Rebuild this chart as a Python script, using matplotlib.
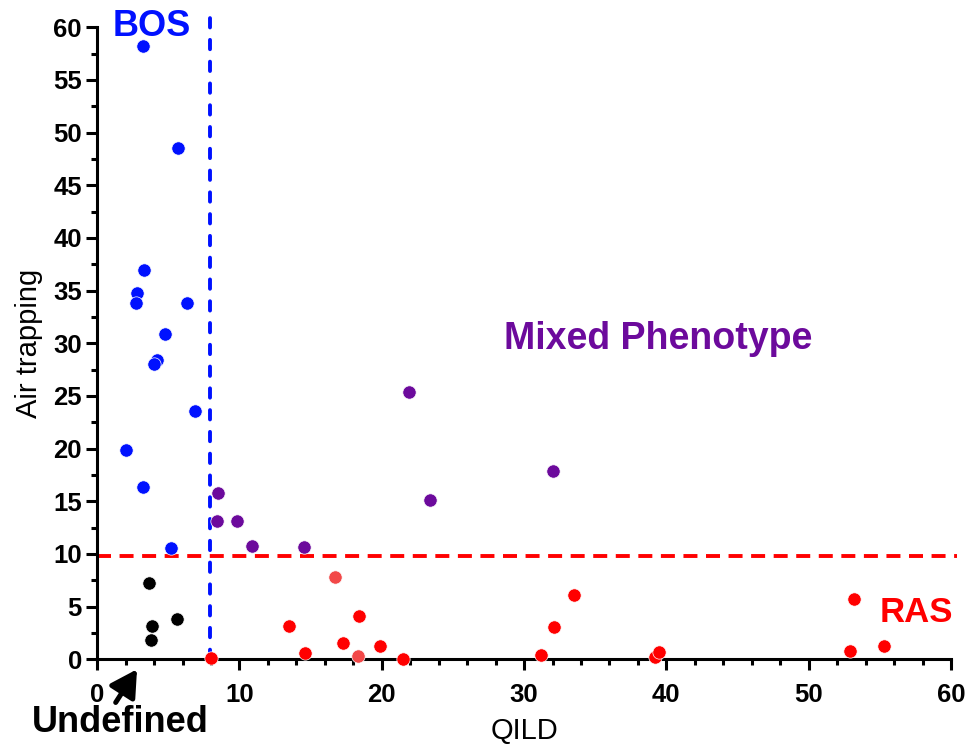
import numpy as np
import matplotlib.pyplot as plt
from matplotlib.ticker import MultipleLocator

#=== Fonts ===
plt.rcParams['font.family'] = ['Liberation Sans', 'DejaVu Sans']

#=== Data ===
bos_qild = [3.2, 5.7, 3.3, 2.8, 2.7, 6.3, 4.8, 4.2, 4.0, 6.9, 2.0, 3.25, 5.2]
bos_air = [58.2, 48.5, 37.0, 34.8, 33.8, 33.8, 30.9, 28.4, 28.0, 23.6, 19.9, 16.4, 10.6]

undef_qild = [3.65, 3.85, 3.8, 5.6]
undef_air = [7.2, 3.2, 1.8, 3.8]

mixed_qild = [8.5, 8.4, 9.8, 10.85, 14.5, 21.9, 23.4, 32.0]
mixed_air = [15.8, 13.1, 13.1, 10.8, 10.7, 25.4, 15.1, 17.9]

ras_qild = [8.0, 13.5, 14.6, 17.3, 18.4, 19.85, 21.5, 31.2, 32.1, 33.5, 39.2, 39.5, 52.9, 53.2, 55.3]
ras_air = [0.1, 3.2, 0.6, 1.5, 4.1, 1.3, 0.0, 0.4, 3.1, 6.1, 0.25, 0.7, 0.8, 5.7, 1.3]

ras_light_qild = [16.7, 18.3]
ras_light_air = [7.8, 0.35]

QILD_CUT = 7.9
AIR_CUT = 9.8

#=== Colours ===
BLUE = '#0011ff'
PURPLE = '#6c0a9c'
RED = '#ff0000'
LIGHT_RED = '#f24848'

#=== Figure ===
fig = plt.figure(figsize=(9.68, 7.48), dpi=100, facecolor='white')
ax = fig.add_axes([0.1004, 0.1186, 0.882, 0.845])

# threshold lines
ax.plot([QILD_CUT, QILD_CUT], [0, 61.0], color=BLUE, lw=2.8,
        linestyle=(0, (2.4, 3.2)), dash_capstyle='round', clip_on=False, zorder=2)
ax.plot([0, 60.4], [AIR_CUT, AIR_CUT], color=RED, lw=2.8,
        linestyle=(0, (3.6, 2.2)), clip_on=False, zorder=2)

# points
kw = dict(s=92, edgecolors='white', linewidths=0.5, clip_on=False, zorder=4)
ax.scatter(bos_qild, bos_air, color=BLUE, **kw)
ax.scatter(undef_qild, undef_air, color='black', **kw)
ax.scatter(mixed_qild, mixed_air, color=PURPLE, **kw)
ax.scatter(ras_qild, ras_air, color=RED, **kw)
ax.scatter(ras_light_qild, ras_light_air, color=LIGHT_RED, **kw)

#=== Axes styling ===
ax.set_xlim(0, 60)
ax.set_ylim(0, 60)
for side in ['top', 'right']:
    ax.spines[side].set_visible(False)
for side in ['left', 'bottom']:
    ax.spines[side].set_linewidth(2.2)

ax.xaxis.set_major_locator(MultipleLocator(10))
ax.xaxis.set_minor_locator(MultipleLocator(2))
ax.yaxis.set_major_locator(MultipleLocator(5))
ax.yaxis.set_minor_locator(MultipleLocator(2.5))
ax.tick_params(which='major', length=8, width=2.2, labelsize=18.5)
ax.tick_params(axis='y', which='major', pad=3)
ax.tick_params(axis='x', which='major', pad=9)
ax.tick_params(which='minor', length=4.5, width=2.2)
for lab in ax.get_xticklabels() + ax.get_yticklabels():
    lab.set_fontweight('bold')

ax.set_xlabel('QILD', fontsize=21, labelpad=7)
ax.set_ylabel('Air trapping', fontsize=21, labelpad=7)

#=== Group labels ===
ax.text(3.8, 60.1, 'BOS', color=BLUE, fontsize=26, fontweight='bold',
        ha='center', va='center', clip_on=False)
ax.text(39.4, 30.4, 'Mixed Phenotype', color=PURPLE, fontsize=27, fontweight='bold',
        ha='center', va='center')
ax.text(57.6, 4.4, 'RAS', color=RED, fontsize=25, fontweight='bold',
        ha='center', va='center')
ax.text(1.6, -6.0, 'Undefined', fontsize=26, fontweight='bold',
        ha='center', va='center', clip_on=False)
ax.annotate('', xy=(2.8, -0.95), xytext=(1.3, -4.1), annotation_clip=False,
            arrowprops=dict(arrowstyle='-|>,head_length=0.8,head_width=0.45',
                            mutation_scale=20, color='black', lw=3.6,
                            shrinkA=0, shrinkB=0))

fig.savefig('out.png', dpi=100, facecolor='white')
plt.close()
